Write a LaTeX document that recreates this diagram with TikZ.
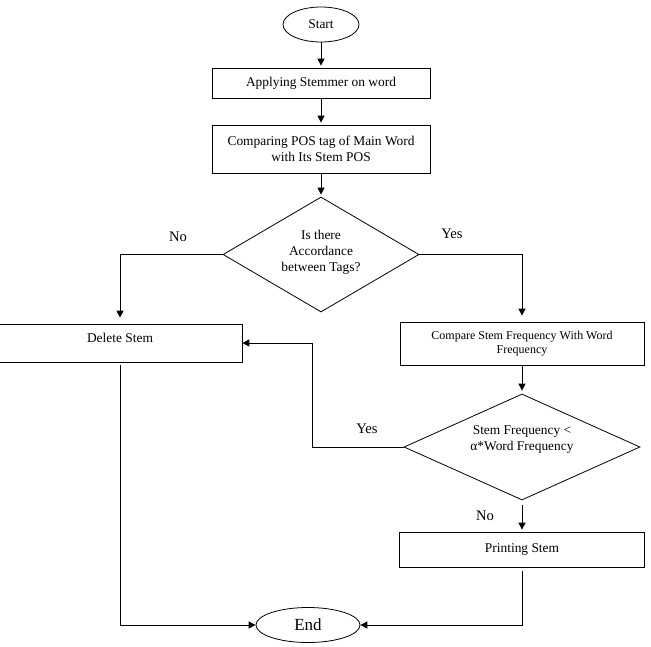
\documentclass[tikz,border=0pt]{standalone}
\usepackage{fontspec}
\setmainfont{Liberation Serif}
\usetikzlibrary{shapes.geometric,arrows.meta}
\begin{document}
\begin{tikzpicture}[x=1pt,y=-1pt,
  every node/.style={font=\fontsize{13.4}{16}\selectfont},
  box/.style={draw, line width=0.8pt, inner sep=0pt, align=center},
  term/.style={draw, ellipse, line width=0.8pt, inner sep=0pt},
  dia/.style={draw, diamond, line width=0.8pt, inner sep=0pt},
  conn/.style={line width=1pt, -{Triangle[length=7pt,width=7pt]}},
  plain/.style={line width=0.9pt},
  lbl/.style={font=\fontsize{14.6}{17}\selectfont}
]
\useasboundingbox (0,0) rectangle (651,646);

% nodes
\node[term, minimum width=76pt, minimum height=35pt] (start) at (321,24.5) {Start};
\node[box, minimum width=218pt, minimum height=30pt] (apply) at (321,83) {Applying Stemmer on word};
\node[box, minimum width=218pt, minimum height=48pt] (cmpos) at (321,149) {Comparing POS tag of Main Word\\with Its Stem POS};
\node[dia, minimum width=196pt, minimum height=115pt] (d1) at (321,254.5) {};
\node[align=center] (d1t) at (321,252) {Is there\\Accordance\\between Tags?};
\node[box, minimum width=244pt, minimum height=38pt] (del) at (120,343) {\raisebox{5pt}[\height][\depth]{Delete Stem}};
\node[box, minimum width=244pt, minimum height=43pt, font=\fontsize{12}{14}\selectfont] (cmpf) at (522,343.5) {Compare Stem Frequency With Word\\Frequency};
\node[dia, minimum width=236pt, minimum height=106pt] (d2) at (522,447) {};
\node[align=center] (d2t) at (522,440) {Stem Frequency <\\α*Word Frequency};
\node[box, minimum width=245pt, minimum height=35pt] (prt) at (522,549.5) {Printing Stem};
\node[term, minimum width=104pt, minimum height=35pt, font=\fontsize{17}{20}\selectfont] (end) at (308,625) {End};

% labels
\node[lbl] (no1) at (178,237) {No};
\node[lbl] (yes1) at (452,234) {Yes};
\node[lbl] (yes2) at (367,429) {Yes};
\node[lbl] (no2) at (485,516) {No};

\coordinate (yesbend) at (312,447);

% connectors
\draw[conn, shorten >=2pt] (start) -- (apply);
\draw[conn, shorten >=2pt] (apply) -- (cmpos);
\draw[conn, shorten >=2pt] (cmpos) -- (d1);
\draw[conn, shorten >=6pt] (d1.west) -| (del.north);
\draw[conn, shorten >=6pt] (d1.east) -| (cmpf.north);
\draw[conn, shorten >=3pt] (cmpf) -- (d2);
\draw[conn, shorten <=5pt, shorten >=2pt] (d2.south) -- (prt.north);
\draw[conn] (d2.west) -- (yesbend) |- (del.east);
\draw[conn, shorten <=3pt] (del.south) |- (end.west);
\draw[conn, shorten <=4pt] (prt.south) |- (end.east);
\end{tikzpicture}
\end{document}
